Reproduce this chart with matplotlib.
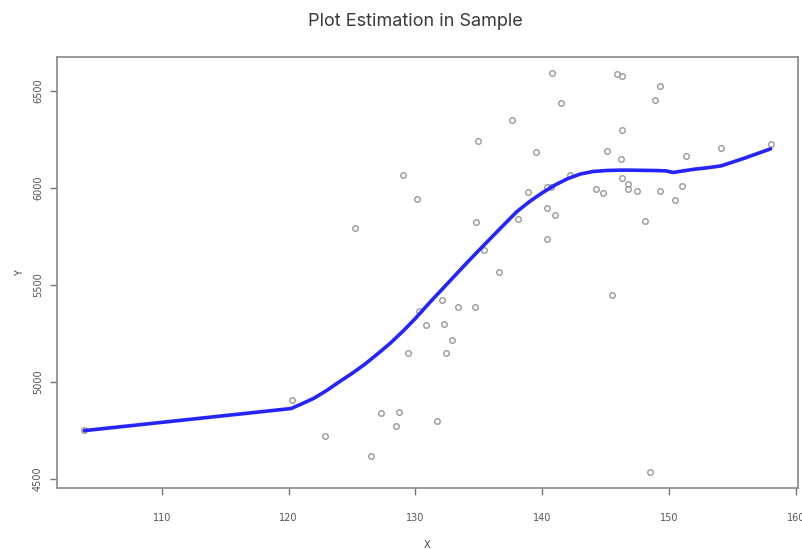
import matplotlib.pyplot as plt
import numpy as np

x_obs = [103.9, 120.3, 122.9, 125.2, 126.5, 127.3, 128.5, 128.7, 129.05, 129.4,
         130.1, 130.3, 130.8, 131.7, 132.1, 132.25, 132.4, 132.9, 133.35, 134.7,
         134.8, 134.9, 135.4, 136.6, 137.6, 138.1, 138.85, 139.5, 140.4, 140.4,
         140.4, 140.7, 140.75, 141.0, 141.5, 142.2, 144.25, 144.8, 145.1, 145.5,
         145.9, 146.2, 146.3, 146.3, 146.3, 146.75, 146.8, 147.5, 148.1, 148.5,
         148.9, 149.3, 149.3, 150.5, 151.0, 151.3, 154.1, 158.0]
y_obs = [4753, 4905, 4719, 5794, 4617, 4840, 4771, 4843, 6069, 5150,
         5942, 5365, 5292, 4796, 5420, 5296, 5150, 5215, 5385, 5385,
         5825, 6240, 5680, 5568, 6352, 5839, 5980, 6188, 5899, 5735,
         6007, 6007, 6593, 5861, 6440, 6068, 5994, 5973, 6191, 5449,
         6588, 6149, 6576, 6297, 6053, 5994, 6019, 5982, 5828, 4534,
         6453, 6527, 5982, 5938, 6009, 6164, 6205, 6226]

# fitted curve
x_fit = [103.9, 120.2, 121, 122, 123, 124, 125, 126, 127, 128, 129, 130, 131,
         132, 133, 134, 135, 136, 137, 138, 139, 140, 141, 142, 143, 144, 145,
         146, 147, 148, 149, 149.8, 150.3, 151, 152, 153, 154.1, 156, 158.0]
y_fit = [4748, 4862, 4885, 4915, 4955, 5000, 5043, 5090, 5143, 5198, 5260, 5327, 5400,
         5470, 5540, 5610, 5678, 5745, 5812, 5878, 5930, 5975, 6015, 6048, 6072, 6085, 6090,
         6092, 6092, 6091, 6090, 6088, 6080, 6087, 6097, 6104, 6114, 6155, 6202]

fig = plt.figure(figsize=(8.02, 5.49), dpi=100)
ax = fig.add_axes([0.071, 0.111, 0.924, 0.785])

ax.plot(x_obs, y_obs, 'o', mfc='none', mec='#999999', ms=4, mew=1)
ax.plot(x_fit, y_fit, color='#2424ff', lw=2.6, solid_capstyle='round',
        solid_joinstyle='round')

# R style 4% padding
xr = max(x_obs) - min(x_obs)
yr = max(y_obs) - min(y_obs)
ax.set_xlim(min(x_obs) - 0.04*xr, max(x_obs) + 0.04*xr)
ax.set_ylim(min(y_obs) - 0.04*yr, max(y_obs) + 0.04*yr)

ax.set_xticks(np.arange(110, 161, 10))
ax.set_yticks(np.arange(4500, 6501, 500))
ax.tick_params(axis='x', length=5, width=1, color='#777777', labelsize=7,
               labelcolor='#555555', pad=13)
ax.tick_params(axis='y', length=5, width=1, color='#777777', labelsize=7,
               labelcolor='#555555', pad=5, labelrotation=90)
for lab in ax.get_yticklabels():
    lab.set_va('center')

for s in ax.spines.values():
    s.set_color('#888888')
    s.set_linewidth(1.2)

ax.set_xlabel('X', fontsize=7, color='#444444', labelpad=12)
ax.set_ylabel('Y', fontsize=7, color='#444444', labelpad=6)
fig.text(415/802, 1 - 22/549, 'Plot Estimation in Sample', fontsize=13,
         color='#3a3a3a', family='Inter', ha='center', va='center')

fig.savefig('out.png', dpi=100)
